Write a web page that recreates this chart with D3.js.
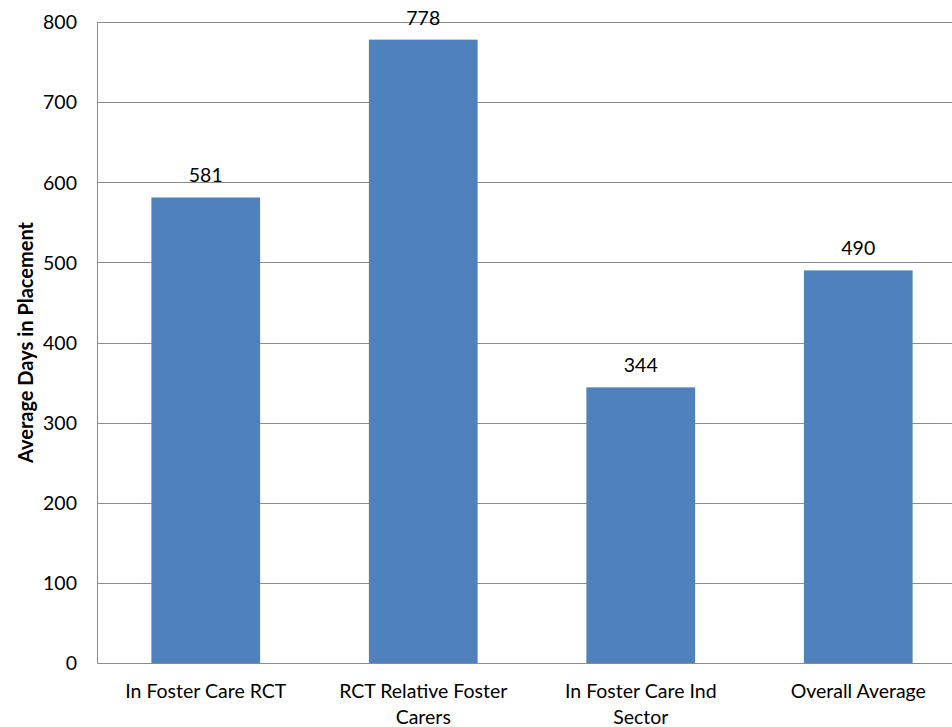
<!DOCTYPE html>
<html lang="en">
<head>
<meta charset="utf-8">
<title>Average Days in Placement</title>
<script src="https://d3js.org/d3.v7.min.js"></script>
<style>
  body { margin: 0; background: #fff; }
  #chart1 { width: 952px; height: 727px; overflow: hidden; }
  text { font-family: Lato, "Open Sans", sans-serif; fill: #000; }
</style>
</head>
<body>
<div id="chart1"></div>
<script>
// data
const categories = ["In Foster Care RCT", "RCT Relative Foster Carers", "In Foster Care Ind Sector", "Overall Average"];
const days = [581, 778, 344, 490];
const yTicks = [0, 100, 200, 300, 400, 500, 600, 700, 800];

const margin = {top: 22, left: 97, bottom: 64};
const width = 870, height = 727 - margin.top - margin.bottom;
const fs = "19.5px";

const svg = d3.select("#chart1").append("svg")
    .attr("width", 952).attr("height", 727);
const g = svg.append("g").attr("transform", "translate(" + margin.left + "," + margin.top + ")");

const x = d3.scaleBand().domain(categories).range([0, width]).paddingInner(0.5).paddingOuter(0.25);
const y = d3.scaleLinear().domain([0, 800]).range([height, 0]);

// gridlines
g.selectAll(".grid").data(yTicks.slice(1)).enter().append("line")
    .attr("x1", 0).attr("x2", width)
    .attr("y1", d => Math.round(y(d)) + 0.5).attr("y2", d => Math.round(y(d)) + 0.5)
    .attr("stroke", "#8c8c8c").attr("stroke-width", 1);

// bars
g.selectAll(".bar").data(days).enter().append("rect")
    .attr("x", (d, i) => x(categories[i]))
    .attr("width", x.bandwidth())
    .attr("y", d => y(d))
    .attr("height", d => height - y(d))
    .attr("fill", "#4f81bd");

// value labels
g.selectAll(".val").data(days).enter().append("text")
    .attr("x", (d, i) => x(categories[i]) + x.bandwidth() / 2)
    .attr("y", d => y(d) - 15)
    .attr("text-anchor", "middle")
    .style("font-size", fs)
    .text(d => d);

// y axis
const yAxis = g.append("g").call(d3.axisLeft(y).tickValues(yTicks).tickSize(0).tickPadding(20));
yAxis.select(".domain").attr("stroke", "#8c8c8c");
yAxis.selectAll("text").style("font-size", fs).attr("dy", "0.35em");

// x axis
const xAxis = g.append("g").attr("transform", "translate(0," + height + ")")
    .call(d3.axisBottom(x).tickSize(0).tickPadding(21));
xAxis.select(".domain").attr("stroke", "#8c8c8c");
xAxis.selectAll("text").style("font-size", fs).call(wrap, 176);

// y title
svg.append("text")
    .attr("transform", "translate(33," + (margin.top + height / 2) + ") rotate(-90)")
    .attr("text-anchor", "middle")
    .style("font-size", "20px").style("font-weight", "bold")
    .text("Average Days in Placement");

function wrap(texts, w) {
  texts.each(function() {
    const t = d3.select(this);
    const words = t.text().split(/\s+/);
    const yy = t.attr("y"), dy = parseFloat(t.attr("dy")) || 0;
    t.text(null);
    let line = [], lineNo = 0;
    let tspan = t.append("tspan").attr("x", 0).attr("y", yy).attr("dy", dy + "em");
    words.forEach(word => {
      line.push(word);
      tspan.text(line.join(" "));
      if (tspan.node().getComputedTextLength() > w && line.length > 1) {
        line.pop();
        tspan.text(line.join(" "));
        line = [word];
        tspan = t.append("tspan").attr("x", 0).attr("y", yy)
            .attr("dy", (++lineNo * 1.33 + dy) + "em").text(word);
      }
    });
  });
}
</script>
</body>
</html>
